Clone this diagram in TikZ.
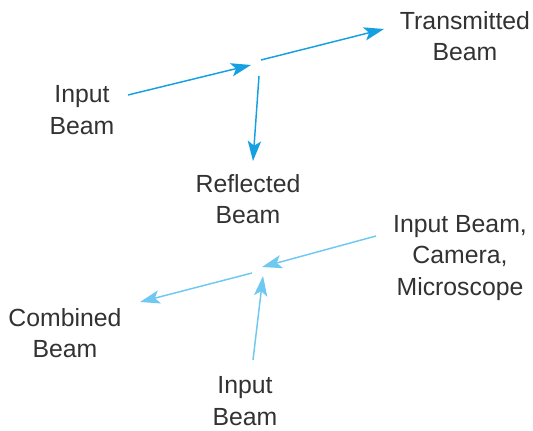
\documentclass[tikz,border=0pt]{standalone}
\usepackage{fontspec}
\setmainfont{Liberation Sans}
\usetikzlibrary{arrows.meta}
\definecolor{beamA}{RGB}{20,160,225}
\definecolor{beamB}{RGB}{110,200,240}
\definecolor{txt}{RGB}{50,50,50}
\begin{document}
\begin{tikzpicture}[x=0.75pt,y=-0.75pt,
  lbl/.style={text=txt,align=center,font=\fontsize{18.6pt}{23.5pt}\selectfont,inner sep=0pt},
  beamtop/.style={draw=beamA,line width=1.1pt,-{Stealth[length=15pt,width=10pt,inset=3.5pt]}},
  beambot/.style={draw=beamB,line width=1.1pt,-{Stealth[length=15pt,width=10pt,inset=3.5pt]}}]
\useasboundingbox (0,0) rectangle (533,431);
% top
\coordinate (t1) at (128,95);
\coordinate (t2) at (251,65);
\coordinate (t3) at (261,60);
\coordinate (t4) at (384,29);
\coordinate (t5) at (259,76);
\coordinate (t6) at (253,161);
\draw[beamtop] (t1) -- (t2);
\draw[beamtop] (t3) -- (t4);
\draw[beamtop] (t5) -- (t6);
\node[lbl] (inA) at (82,110) {Input\\Beam};
\node[lbl] (tr) at (465,36) {Transmitted\\Beam};
\node[lbl] (rf) at (248,199) {Reflected\\Beam};
% bottom
\coordinate (b1) at (376,236);
\coordinate (b2) at (262,267);
\coordinate (b3) at (252,273);
\coordinate (b4) at (140,302);
\coordinate (b5) at (253,360);
\coordinate (b6) at (263,276);
\draw[beambot] (b1) -- (b2);
\draw[beambot] (b3) -- (b4);
\draw[beambot] (b5) -- (b6);
\node[lbl] (cam) at (460,258) {Input Beam,\\Camera,\\Microscope};
\node[lbl] (cb) at (65,333) {Combined\\Beam};
\node[lbl] (inB) at (245,401) {Input\\Beam};
\end{tikzpicture}
\end{document}
